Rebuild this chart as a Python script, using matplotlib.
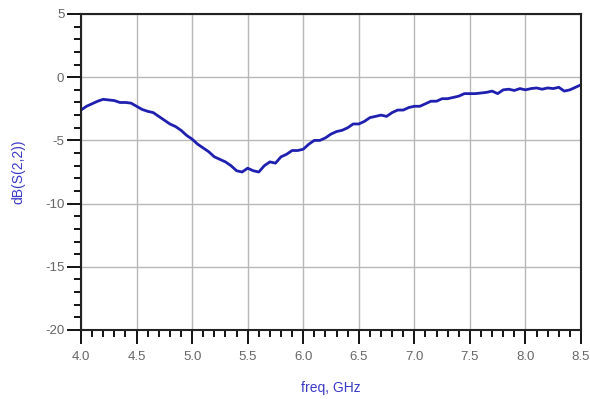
import numpy as np
import matplotlib.pyplot as plt
from matplotlib.ticker import MultipleLocator

plt.rcParams['font.family'] = ['Liberation Sans', 'DejaVu Sans']

# S(2,2) in dB, 0.05 GHz steps
freq = np.round(np.arange(4.0, 8.5001, 0.05), 2)
s22_db = [-2.6, -2.3, -2.1, -1.9, -1.75, -1.8, -1.85, -2.0, -2.0, -2.05,
          -2.3, -2.55, -2.7, -2.8, -3.1, -3.4, -3.7, -3.9, -4.2, -4.6,
          -4.9, -5.3, -5.6, -5.9, -6.3, -6.5, -6.7, -7.0, -7.4, -7.5,
          -7.2, -7.4, -7.5, -7.0, -6.7, -6.8, -6.3, -6.1, -5.8, -5.8,
          -5.7, -5.3, -5.0, -5.0, -4.8, -4.5, -4.3, -4.2, -4.0, -3.7,
          -3.7, -3.5, -3.2, -3.1, -3.0, -3.1, -2.8, -2.6, -2.6, -2.4,
          -2.3, -2.3, -2.1, -1.9, -1.9, -1.7, -1.7, -1.6, -1.5, -1.3,
          -1.3, -1.3, -1.25, -1.2, -1.1, -1.3, -1.0, -0.95, -1.05, -0.9,
          -1.0, -0.9, -0.85, -0.95, -0.85, -0.9, -0.8, -1.1, -1.0, -0.8,
          -0.6]

fig = plt.figure(figsize=(5.9, 3.99), dpi=100)
ax = fig.add_axes([81/590, 1-330/399, 500/590, 316/399])

ax.plot(freq, s22_db, color='#1f1fb0', lw=2.0)

ax.set_xlim(4.0, 8.5)
ax.set_ylim(-20, 5)
ax.xaxis.set_major_locator(MultipleLocator(0.5))
ax.xaxis.set_minor_locator(MultipleLocator(0.1))
ax.yaxis.set_major_locator(MultipleLocator(5))
ax.yaxis.set_minor_locator(MultipleLocator(1))
ax.xaxis.set_major_formatter(plt.FuncFormatter(lambda v, p: f'{v:.1f}'))
ax.yaxis.set_major_formatter(plt.FuncFormatter(lambda v, p: f'{v:.0f}'))

ax.grid(True, which='major', color='#b8b8b8', lw=1)
ax.tick_params(which='major', direction='out', length=10, width=1.3,
               color='black', labelcolor='#666666', labelsize=9.5, pad=2)
ax.tick_params(axis='x', which='major', pad=5)
ax.tick_params(which='minor', direction='out', length=5, width=1.3, color='black')
ax.tick_params(top=False, right=False)
for s in ax.spines.values():
    s.set_linewidth(1.5)
    s.set_color('#222222')

ax.set_xlabel('freq, GHz', color='#3a3ac8', fontsize=10, labelpad=13)
ax.set_ylabel('dB(S(2,2))', color='#3a3ac8', fontsize=10, labelpad=14)

fig.savefig('out.png', dpi=100)
